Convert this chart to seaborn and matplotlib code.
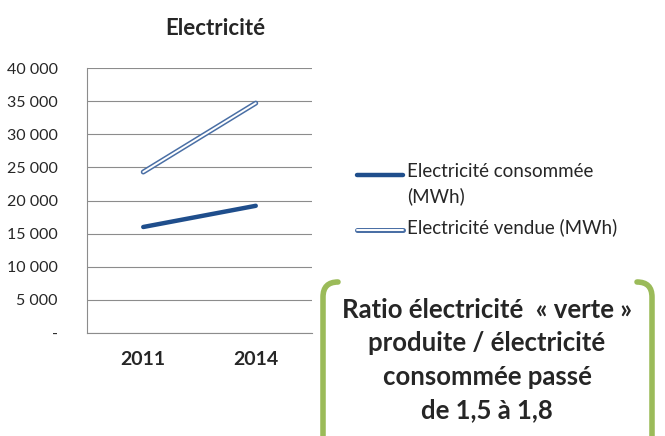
import numpy as np
import pandas as pd
import seaborn as sns
import matplotlib.pyplot as plt
import matplotlib.patheffects as pe
from matplotlib.lines import Line2D
from matplotlib.path import Path
from matplotlib.patches import PathPatch

years = ['2011', '2014']
consumed = [16000, 19200]
sold = [24300, 34700]
series_names = ['Electricité consommée\n(MWh)', 'Electricité vendue (MWh)']
yticks = [0, 5000, 10000, 15000, 20000, 25000, 30000, 35000, 40000]

dark_blue = '#1F4E8C'
mid_blue = '#4A6FA5'
green = '#9BBB59'

sns.set_style('white')
plt.rcParams['font.family'] = ['Lato', 'DejaVu Sans']

df = pd.DataFrame({'year': years * 2,
                   'value': consumed + sold,
                   'series': [series_names[0]] * 2 + [series_names[1]] * 2})

W, H = 665, 436
fig = plt.figure(figsize=(W / 100, H / 100), dpi=100)
ax = fig.add_axes([87 / W, 1 - 333 / H, (312 - 87) / W, (333 - 68) / H])

sold_fx = [pe.Stroke(linewidth=3.6, foreground=mid_blue), pe.Normal()]
sns.lineplot(data=df[df.series == series_names[0]], x='year', y='value', color=dark_blue,
             linewidth=3.2, ax=ax, legend=False, solid_capstyle='round')
sns.lineplot(data=df[df.series == series_names[1]], x='year', y='value', color='white',
             linewidth=1.4, ax=ax, legend=False, path_effects=sold_fx)

ax.set_xlim(-0.5, 1.5)
ax.set_ylim(0, 40000)
ax.set_yticks(yticks)
ax.set_yticklabels(['-'] + [f'{v:,}'.replace(',', ' ') for v in yticks[1:]], fontsize=11.5)
ax.set_xticks(range(len(years)))
ax.set_xticklabels(years, fontsize=14, fontweight='bold')
ax.tick_params(axis='y', length=0, pad=21)
ax.tick_params(axis='x', length=0, pad=13)
ax.grid(axis='y', color='#8C8C8C', linewidth=0.8)
ax.set_axisbelow(True)
for s in ['top', 'right']:
    ax.spines[s].set_visible(False)
for s in ['left', 'bottom']:
    ax.spines[s].set_color('#8C8C8C')
    ax.spines[s].set_linewidth(0.8)
ax.set_xlabel('')
ax.set_ylabel('')

fig.text(215 / W, 1 - 28 / H, 'Electricité', ha='center', va='center', fontsize=16, fontweight='bold')


def px(x, y):
    return (x / W, 1 - y / H)


# legend, first line of each label aligned with its line sample
legend_rows = [(175, dark_blue, 3.2, None), (230, 'white', 1.4, sold_fx)]
for (y, col, lw, fx), name in zip(legend_rows, series_names):
    (x0, yy), (x1, _) = px(357, y), px(403, y)
    fig.add_artist(Line2D([x0, x1], [yy, yy], transform=fig.transFigure, color=col,
                          linewidth=lw, path_effects=fx))
    fig.text(407 / W, 1 - (y - 12) / H, name, ha='left', va='top', fontsize=13.5, linespacing=1.5)

left = Path([px(338, 282), px(323, 282), px(323, 297), px(323, 440)],
            [Path.MOVETO, Path.CURVE3, Path.CURVE3, Path.LINETO])
right = Path([px(637, 282), px(652, 282), px(652, 297), px(652, 440)],
             [Path.MOVETO, Path.CURVE3, Path.CURVE3, Path.LINETO])
for p in (left, right):
    fig.add_artist(PathPatch(p, transform=fig.transFigure, facecolor='none',
                             edgecolor=green, linewidth=4, capstyle='round'))

fig.text(487 / W, 1 - 360 / H,
         'Ratio électricité  « verte »\nproduite / électricité\nconsommée passé\nde 1,5 à 1,8',
         ha='center', va='center', fontsize=18.5, fontweight='bold', linespacing=1.48)

fig.savefig('out.png', dpi=100)
